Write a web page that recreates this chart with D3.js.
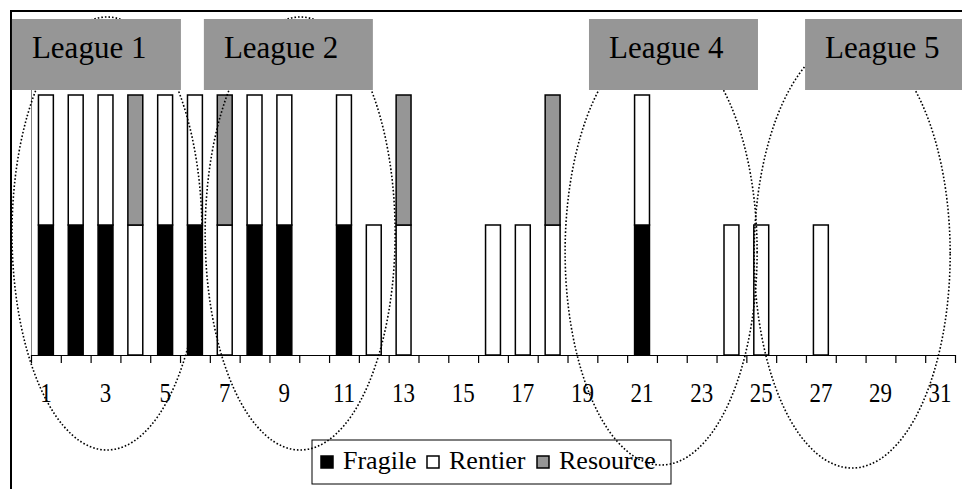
<!DOCTYPE html>
<html>
<head>
<meta charset="utf-8">
<script src="https://cdn.jsdelivr.net/npm/d3@7"></script>
<style>
  html, body { margin: 0; padding: 0; background: #fff; }
  svg { display: block; }
  svg text { font-family: "Liberation Serif", "Times New Roman", serif; }
</style>
</head>
<body>
<svg id="chart" width="962" height="489"></svg>
<script>
// ---- data ----
const categories = [1,2,3,4,5,6,7,8,9,10,11,12,13,14,15,16,17,18,19,20,21,22,23,24,25,26,27,28,29,30,31];
const fragile  = [1,1,1,0,1,1,0,1,1,0,1,0,0,0,0,0,0,0,0,0,1,0,0,0,0,0,0,0,0,0,0];
const rentier  = [1,1,1,1,1,1,1,1,1,0,1,1,1,0,0,1,1,1,0,0,1,0,0,1,1,0,1,0,0,0,0];
const resource = [0,0,0,1,0,0,1,0,0,0,0,0,1,0,0,0,0,1,0,0,0,0,0,0,0,0,0,0,0,0,0];
const seriesNames = ["Fragile", "Rentier", "Resource"];
const tickLabels = [1,3,5,7,9,11,13,15,17,19,21,23,25,27,29,31];
const leagueLabels = ["League 1", "League 2", "League 4", "League 5"];
const leagueCenters = [3.05, 9.53, 21.64, 28.05]; // ellipse centres, in category units

// ---- layout ----
const W = 962, H = 489;
const plot = { left: 31, right: 955, top: 95, bottom: 355 };
const colors = { Fragile: "#000000", Rentier: "#ffffff", Resource: "#969696" };
const serif = '"Liberation Serif", "Times New Roman", serif';

const svg = d3.select("#chart");

const rows = categories.map((c, i) => ({ cat: c, Fragile: fragile[i], Rentier: rentier[i], Resource: resource[i] }));

const x = d3.scaleBand().domain(categories).range([plot.left, plot.right])
  .paddingInner(0.5).paddingOuter(0.25);
const xLin = d3.scaleLinear().domain([0.5, categories.length + 0.5]).range([plot.left, plot.right]);
const y = d3.scaleLinear().domain([0, 2]).range([plot.bottom, plot.top]);

// frame
svg.append("line").attr("x1", 10).attr("x2", W).attr("y1", 11).attr("y2", 11)
  .attr("stroke", "#000").attr("stroke-width", 2);
svg.append("line").attr("x1", 11).attr("x2", 11).attr("y1", 10).attr("y2", H)
  .attr("stroke", "#000").attr("stroke-width", 2);

// y axis line (no ticks)
svg.append("line").attr("x1", plot.left + 0.5).attr("x2", plot.left + 0.5)
  .attr("y1", 19).attr("y2", plot.bottom)
  .attr("stroke", "#808080").attr("stroke-width", 1);

// bars
const stacked = d3.stack().keys(seriesNames)(rows);
const gBars = svg.append("g");
stacked.forEach(layer => {
  gBars.selectAll(null)
    .data(layer.filter(d => d[1] - d[0] > 0))
    .join("rect")
    .attr("x", d => x(d.data.cat))
    .attr("width", x.bandwidth())
    .attr("y", d => y(d[1]))
    .attr("height", d => y(d[0]) - y(d[1]))
    .attr("fill", colors[layer.key])
    .attr("stroke", "#000")
    .attr("stroke-width", 1.5);
});

// x axis: boundary ticks
const boundaries = d3.range(0.5, categories.length + 1, 1);
const gTicks = svg.append("g").attr("transform", `translate(0,${plot.bottom})`)
  .call(d3.axisBottom(xLin).tickValues(boundaries).tickFormat("").tickSize(8).tickSizeOuter(0));
gTicks.select(".domain").attr("stroke", "#000").attr("stroke-width", 1.2);
gTicks.selectAll(".tick line").attr("stroke", "#000").attr("stroke-width", 1.2);

// x axis labels (odd categories)
const gLab = svg.append("g").attr("transform", `translate(0,${plot.bottom})`)
  .call(d3.axisBottom(x).tickValues(tickLabels).tickSize(0).tickPadding(30));
gLab.attr("font-family", null);
gLab.select(".domain").remove();
gLab.selectAll(".tick text")
  .style("font-family", serif).style("font-size", "23px").attr("fill", "#000")
  .attr("dy", null).attr("y", null)
  .attr("transform", "translate(0,47) scale(1,1.18)");

// legend
const lg = svg.append("g");
lg.append("rect").attr("x", 312).attr("y", 440).attr("width", 359).attr("height", 44)
  .attr("fill", "#fff").attr("stroke", "#000").attr("stroke-width", 1);
const legendX = [321, 427, 537];
seriesNames.forEach((s, i) => {
  lg.append("rect").attr("x", legendX[i]).attr("y", 456).attr("width", 12).attr("height", 12)
    .attr("fill", colors[s]).attr("stroke", "#000").attr("stroke-width", 1.5);
  lg.append("text").attr("x", legendX[i] + 22).attr("y", 469)
    .style("font-family", serif).style("font-size", "26px").attr("fill", "#000").text(s);
});

// ellipses (dotted)
const ellipseShape = [
  { cy: 233.5, rx: 95, ry: 216.5 },
  { cy: 233.5, rx: 95, ry: 216.5 },
  { cy: 252, rx: 96, ry: 213 },
  { cy: 254, rx: 98, ry: 214 }
];
svg.append("g").selectAll("ellipse")
  .data(leagueCenters)
  .join("ellipse")
  .attr("cx", d => xLin(d))
  .attr("cy", (d, i) => ellipseShape[i].cy)
  .attr("rx", (d, i) => ellipseShape[i].rx)
  .attr("ry", (d, i) => ellipseShape[i].ry)
  .attr("fill", "none").attr("stroke", "#000").attr("stroke-width", 1.6)
  .attr("stroke-dasharray", "1.6,2");

// league boxes
const boxStart = [-0.14, 6.3, 19.22, 26.47]; // in category units
const gBox = svg.append("g");
leagueLabels.forEach((lab, i) => {
  const bx = xLin(boxStart[i]);
  gBox.append("rect").attr("x", bx).attr("y", 19).attr("width", 169).attr("height", 71)
    .attr("fill", "#969696");
  gBox.append("text").attr("x", bx + 20).attr("y", 58)
    .style("font-family", serif).style("font-size", "31px").attr("fill", "#000").text(lab);
});
</script>
</body>
</html>
